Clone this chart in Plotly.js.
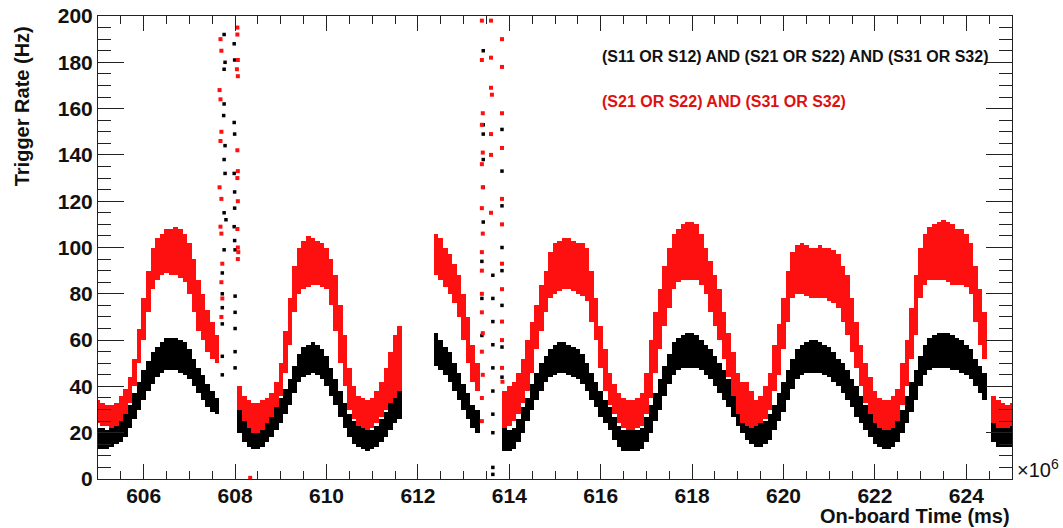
<!DOCTYPE html>
<html>
<head>
<meta charset="utf-8">
<script src="https://cdn.plot.ly/plotly-3.0.1.min.js"></script>
<style>html,body{margin:0;padding:0;background:#fff;}#chart{width:1063px;height:528px;}</style>
</head>
<body>
<div id="chart"></div>
<script>
// ---- Data (time in units of 1e6 ms, rate in Hz) ----
// Band of the red series: (S21 OR S22) AND (S31 OR S32)  -> lower / upper edge of the point cloud
const redTime = [605.0,605.1,605.2,605.3,605.4,605.5,605.6,605.7,605.8,605.9,606.0,606.1,606.2,606.3,606.4,606.5,606.6,606.7,606.8,606.9,607.0,607.1,607.2,607.3,607.4,607.5,607.6,
608.1,608.2,608.3,608.4,608.5,608.6,608.7,608.8,608.9,609.0,609.1,609.2,609.3,609.4,609.5,609.6,609.7,609.8,609.9,610.0,610.1,610.2,610.3,610.4,610.5,610.6,610.7,610.8,610.9,611.0,611.1,611.2,611.3,611.4,611.5,611.6,
612.4,612.5,612.6,612.7,612.8,612.9,613.0,613.1,613.2,613.3,
613.9,614.0,614.1,614.2,614.3,614.4,614.5,614.6,614.7,614.8,614.9,615.0,615.1,615.2,615.3,615.4,615.5,615.6,615.7,615.8,615.9,616.0,616.1,616.2,616.3,616.4,616.5,616.6,616.7,616.8,616.9,617.0,617.1,617.2,617.3,617.4,617.5,617.6,617.7,617.8,617.9,618.0,618.1,618.2,618.3,618.4,618.5,618.6,618.7,618.8,618.9,619.0,619.1,619.2,619.3,619.4,619.5,619.6,619.7,619.8,619.9,620.0,620.1,620.2,620.3,620.4,620.5,620.6,620.7,620.8,620.9,621.0,621.1,621.2,621.3,621.4,621.5,621.6,621.7,621.8,621.9,622.0,622.1,622.2,622.3,622.4,622.5,622.6,622.7,622.8,622.9,623.0,623.1,623.2,623.3,623.4,623.5,623.6,623.7,623.8,623.9,624.0,624.1,624.2,624.3,624.4,
624.6,624.7,624.8,624.9,625.0];
const redLo = [24,23,23,22,23,25,28,33,40,50,60,72,82,86,88,89,88,88,87,85,80,72,64,60,55,52,50,
30,25,22,20,20,21,24,27,31,36,46,58,72,80,82,83,84,84,83,82,75,64,50,40,30,26,23,22,21,22,24,27,30,33,35,38,
88,86,83,80,76,70,60,50,42,38,
22,23,25,28,33,38,46,56,64,72,78,80,81,82,82,81,80,79,77,68,60,48,38,32,28,24,22,21,21,22,23,28,35,46,56,66,74,82,85,86,86,86,86,84,80,72,66,60,52,44,36,28,24,23,22,23,24,26,30,38,45,56,68,78,80,80,79,78,78,78,78,77,76,74,68,62,55,48,40,33,28,24,22,21,21,22,25,32,40,52,62,78,84,86,86,86,86,85,84,84,84,83,80,68,58,52,
24,22,22,22,23];
const redHi = [34,33,32,32,33,36,39,44,52,65,78,90,100,104,106,108,108,109,108,106,102,95,86,80,73,68,62,
40,36,34,33,33,34,35,37,42,50,64,78,92,100,103,105,104,103,102,100,95,88,75,62,48,40,36,35,34,35,38,42,48,55,62,66,
106,104,100,97,93,88,80,70,58,50,
38,40,42,46,52,60,68,75,84,90,98,102,103,104,104,103,102,102,100,90,78,66,56,46,41,37,35,34,34,35,37,46,60,72,82,92,100,106,108,110,111,111,110,106,100,94,88,82,72,63,55,46,42,42,38,34,36,40,46,58,67,78,90,98,101,102,101,100,100,101,100,100,99,97,92,88,78,68,58,50,44,38,35,34,34,36,39,50,60,74,88,100,106,109,110,111,112,111,110,108,108,106,102,92,82,72,
36,34,33,32,33];

// Band of the black series: (S11 OR S12) AND (S21 OR S22) AND (S31 OR S32)
const blackTime = redTime;
const blackLo = [13,13,13,14,15,16,18,22,26,30,34,38,41,44,46,47,47,47,46,45,43,40,37,34,31,29,28,
20,16,14,13,13,14,16,18,21,24,28,32,37,42,44,45,46,45,43,40,36,32,27,22,18,15,14,13,12,13,14,16,18,21,24,26,
49,47,45,42,38,34,30,26,22,20,
12,12,13,16,20,25,30,34,38,42,44,45,46,46,45,44,43,41,38,34,31,27,24,21,17,14,12,12,12,12,13,16,20,25,30,36,41,45,47,48,48,48,48,47,45,43,40,37,34,31,27,23,20,17,15,14,14,15,17,21,25,29,34,39,43,45,46,46,46,46,45,44,42,40,37,34,31,27,24,21,18,15,14,13,13,14,16,20,24,29,34,40,45,47,48,48,48,48,47,47,46,45,43,40,37,34,
16,14,14,14,14];
const blackHi = [22,22,21,22,23,25,28,32,37,42,47,51,55,57,59,61,61,61,60,59,56,52,48,45,41,38,35,
36,26,23,22,21,22,25,27,31,35,39,43,49,54,57,58,59,58,56,53,48,43,38,33,28,25,23,22,21,21,23,26,29,33,36,38,
63,60,57,55,50,46,41,37,32,30,
22,21,22,26,31,35,41,46,50,53,56,58,59,59,58,57,56,54,50,46,42,38,34,31,27,23,21,21,21,21,22,27,32,37,43,49,54,59,61,62,63,63,62,60,58,56,53,50,47,43,39,34,30,27,25,24,24,25,28,32,37,42,47,52,56,58,59,60,60,59,58,57,55,52,50,47,43,40,36,32,29,25,23,22,21,22,25,30,36,42,47,53,58,61,62,63,63,63,62,61,60,58,56,52,49,46,
26,23,23,23,23];

// Scattered outlier points in the two spike regions
const redSpikeT = [607.68,607.70,607.66,607.68,607.70,607.68,607.66,607.70,607.68,607.70,607.72,607.70,607.72,607.70,
608.05,608.05,608.06,608.04,608.06,608.05,608.06,608.05,608.06,608.05,608.06,608.07,608.06,608.33,
613.40,613.40,613.42,613.40,613.42,613.40,613.42,613.40,613.42,613.40,613.40,613.40,613.40,613.42,613.40,613.42,613.40,613.40,
613.60,613.60,613.60,613.62,613.60,613.60,613.60,
613.84,613.84,613.84,613.84,613.84,613.84,613.84,613.84,613.84,613.84,613.84,613.85];
const redSpikeV = [190,185,168,164,150,146,126,121,109,106,93,85,78,70,
195,192,181,177,174,142,133,130,120,108,100,98,95,0.5,
198,181,158,153,141,136,126,117,106,98,90,80,72,63,55,45,35,25,
198,182,169,166,149,140,115,
190,178,158,143,121,110,93,82,68,60,48,42];
const blackSpikeT = [607.76,607.78,607.76,607.76,607.75,607.78,607.76,607.78,607.76,607.80,607.76,607.72,607.72,607.72,607.72,607.72,607.72,
607.98,607.99,607.98,607.99,607.98,607.99,607.99,607.98,607.99,608.00,608.00,608.00,608.00,608.00,608.00,
613.43,613.43,613.43,613.43,613.43,613.43,613.40,613.40,613.40,
613.64,613.64,613.64,613.64,613.64,613.64,613.64,613.64,613.64,613.64,
613.84,613.84,613.84,613.84,613.84,613.84,613.84,613.84];
const blackSpikeV = [192,180,177,162,157,144,138,132,115,112,99,89,80,74,67,53,45,
188,181,154,149,132,124,117,109,103,99,79,72,65,55,48,
185,153,149,138,126,111,94,78,62,
88,78,68,58,48,38,28,20,5,2,
151,133,118,100,90,75,57,44];

const xTickLabels = ['606','608','610','612','614','616','618','620','622','624'];
const yTickLabels = ['0','20','40','60','80','100','120','140','160','180','200'];
const legendBlack = '(S11 OR S12) AND (S21 OR S22) AND (S31 OR S32)';
const legendRed = '(S21 OR S22) AND (S31 OR S32)';

// ---- Traces ----
const diff = (hi, lo) => hi.map((h, i) => h - lo[i]);
const RED = '#ff1010', BLACK = '#000000';

const traces = [
  {type: 'bar', x: blackTime, base: blackLo, y: diff(blackHi, blackLo), width: 0.1,
   marker: {color: BLACK, line: {width: 0}}, hoverinfo: 'skip', showlegend: false},
  {type: 'scatter', mode: 'markers', x: blackSpikeT, y: blackSpikeV,
   marker: {symbol: 'square', size: 3.5, color: BLACK}, hoverinfo: 'skip', showlegend: false},
  {type: 'bar', x: redTime, base: redLo, y: diff(redHi, redLo), width: 0.1,
   marker: {color: RED, line: {width: 0}}, hoverinfo: 'skip', showlegend: false},
  {type: 'scatter', mode: 'markers', x: redSpikeT, y: redSpikeV,
   marker: {symbol: 'square', size: 4, color: RED}, hoverinfo: 'skip', showlegend: false}
];

const tickFont = {family: 'Liberation Sans, Arial, sans-serif', size: 21, color: '#111', weight: 'bold'};
const L = 98, R = 51, T = 16, B = 49, W = 1063, H = 528;
const pw = W - L - R, ph = H - T - B;

const layout = {
  width: W, height: H,
  margin: {l: L, r: R, t: T, b: B, pad: 0},
  paper_bgcolor: '#fff', plot_bgcolor: '#fff',
  barmode: 'overlay', bargap: 0,
  showlegend: false,
  xaxis: {
    range: [605, 625], autorange: false,
    tickvals: xTickLabels.map(Number), ticktext: xTickLabels,
    ticks: 'inside', ticklen: 15, tickwidth: 1, tickcolor: '#222',
    minor: {dtick: 0.5, ticks: 'inside', ticklen: 8, tickwidth: 1, tickcolor: '#222'},
    showline: true, linecolor: '#222', linewidth: 1, mirror: 'allticks',
    showgrid: false, zeroline: false, ticklabelstandoff: -2,
    tickfont: tickFont
  },
  yaxis: {
    range: [0, 200], autorange: false,
    tickvals: yTickLabels.map(Number), ticktext: yTickLabels,
    ticks: 'inside', ticklen: 26, tickwidth: 1, tickcolor: '#222',
    minor: {dtick: 5, ticks: 'inside', ticklen: 13, tickwidth: 1, tickcolor: '#222'},
    showline: true, linecolor: '#222', linewidth: 1, mirror: 'allticks',
    showgrid: false, zeroline: false,
    tickfont: tickFont
  },
  annotations: [
    {text: legendBlack, xref: 'x', yref: 'y', x: 615.98, y: 182.5, xanchor: 'left', yanchor: 'middle',
     showarrow: false, font: {family: 'Liberation Sans, Arial, sans-serif', size: 16, color: '#111', weight: 'bold'}},
    {text: legendRed, xref: 'x', yref: 'y', x: 615.98, y: 163, xanchor: 'left', yanchor: 'middle',
     showarrow: false, font: {family: 'Liberation Sans, Arial, sans-serif', size: 16, color: '#dd1111', weight: 'bold'}},
    {text: 'On-board Time (ms)', xref: 'paper', yref: 'paper', x: 1, y: -(516 - (H - B)) / ph,
     xanchor: 'right', yanchor: 'middle', showarrow: false,
     font: {family: 'Liberation Sans, Arial, sans-serif', size: 20, color: '#111', weight: 'bold'}},
    {text: '\u00d710<sup>6</sup>', xref: 'paper', yref: 'paper', x: (1015 - L) / pw, y: -(468 - (H - B)) / ph,
     xanchor: 'left', yanchor: 'middle', showarrow: false,
     font: {family: 'Liberation Sans, Arial, sans-serif', size: 20, color: '#111'}},
    {text: 'Trigger Rate (Hz)', xref: 'paper', yref: 'y', x: (22 - L) / pw, y: 161, textangle: -90,
     xanchor: 'center', yanchor: 'middle', showarrow: false,
     font: {family: 'Liberation Sans, Arial, sans-serif', size: 20, color: '#111', weight: 'bold'}}
  ]
};

Plotly.newPlot('chart', traces, layout, {staticPlot: true, displayModeBar: false});
</script>
</body>
</html>
